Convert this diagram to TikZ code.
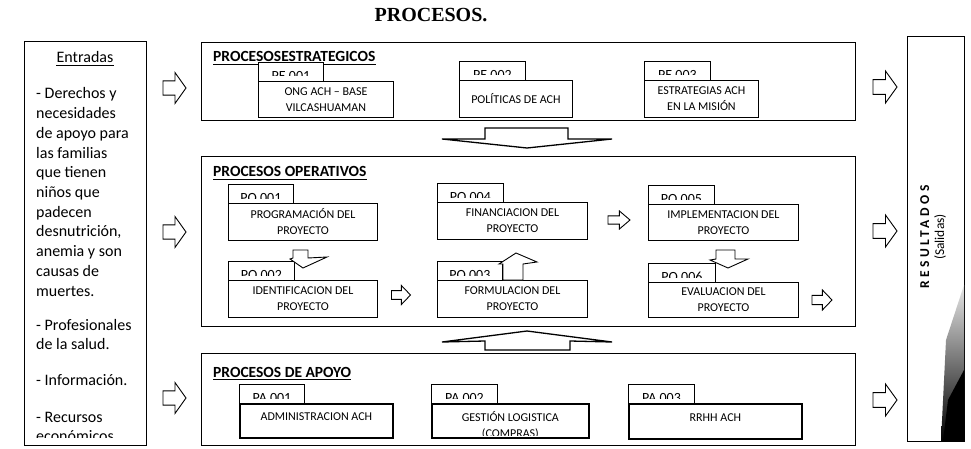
\documentclass[tikz,border=0pt]{standalone}
\usepackage{fontspec}
\setmainfont{Carlito}
\newfontfamily\headserif{Liberation Serif}
\usetikzlibrary{calc}

\tikzset{
  panel/.style={draw, line width=1.1pt, anchor=north west, inner sep=0pt},
  tabbox/.style={draw, line width=0.9pt, fill=white, anchor=north west, inner sep=0pt, minimum height=19},
  tablabel/.style={anchor=base, inner sep=0pt, font=\fontsize{14}{16}\selectfont},
  mainbox/.style={draw, line width=0.9pt, fill=white, anchor=north west, inner sep=0pt,
    align=center, font=\fontsize{12}{16}\selectfont},
  heavybox/.style={line width=1.8pt, text depth=8pt},
  ptitle/.style={anchor=base west, inner sep=0pt, font=\bfseries\fontsize{15.5}{18}\selectfont},
  uline/.style={line width=1pt},
  entry/.style={anchor=base west, inner sep=0pt, font=\fontsize{16}{19}\selectfont},
  blockline/.style={draw, fill=white, line width=0.9pt, line join=miter},
  bigflow/.style={draw, fill=white, line width=1.3pt, line join=miter},
  pics/rblock/.style={code={
    \path[blockline] (-0.5,-0.23) -- (0.02,-0.23) -- (0.02,-0.5) -- (0.5,0)
      -- (0.02,0.5) -- (0.02,0.23) -- (-0.5,0.23) -- cycle;}},
}

% one process: tab with its code (upper half shown) and the box below it
% #1 name, #2 left x, #3 tab top, #4 tab width, #5 box width, #6 box height,
% #7 code, #8 box text, #9 extra box style
\newcommand\procunit[9]{%
  \node[tabbox, minimum width=#4] (#1t) at (#2,#3) {};
  \begin{scope}
    \clip ([yshift=-1pt]#1t.north west) rectangle ([yshift=-14pt]#1t.north east);
    \node[tablabel] (#1l) at ([yshift=-18.5pt]#1t.north) {#7};
  \end{scope}
  \node[mainbox, minimum width=#5, minimum height=#6, #9] (#1) at (#2,#3+19) {#8};
}

\begin{document}
\begin{tikzpicture}[x=1pt, y=-1pt]
\useasboundingbox (0,0) rectangle (971,449);

% heading
\node[font=\headserif\bfseries\fontsize{20}{24}\selectfont, inner sep=0pt] (title) at (431,15) {PROCESOS.};

% inputs column
\node[panel, minimum width=122, minimum height=404] (entradas) at (24,41) {};
\node[entry, anchor=base] (inhead) at (85,63) {Entradas};
\draw[uline] ([yshift=-2.5pt]inhead.base west) -- ([yshift=-2.5pt]inhead.base east);
\begin{scope}
  \clip (25,42) rectangle (145,437.5);
  \foreach \yy/\tx [count=\i] in {99/{- Derechos y}, 118.7/{necesidades}, 138.4/{de apoyo para},
      158.1/{las familias}, 177.8/{que tienen}, 197.5/{niños que}, 217.2/{padecen},
      236.9/{desnutrición,}, 256.6/{anemia y son}, 276.3/{causas de}, 296/{muertes.},
      330/{- Profesionales}, 349.5/{de la salud.}, 385/{- Información.},
      422/{- Recursos}, 441.5/{económicos}}
    \node[entry] (in\i) at (36,\yy) {\tx};
\end{scope}

% process panels
\node[panel, minimum width=654, minimum height=78] (pest) at (201,42) {};
\node[panel, minimum width=654, minimum height=170] (pope) at (201,156) {};
\node[panel, minimum width=654, minimum height=92] (papo) at (201,353) {};

\node[ptitle] (tEst) at (213,62) {PROCESOSESTRATEGICOS};
\draw[uline] ([yshift=-2.5pt]tEst.base west) -- ([yshift=-2.5pt]tEst.base east);
\node[ptitle] (tOpe) at (213,177) {PROCESOS OPERATIVOS};
\draw[uline] ([yshift=-2.5pt]tOpe.base west) -- ([yshift=-2.5pt]tOpe.base east);
\node[ptitle] (tApo) at (213,377) {PROCESOS DE APOYO};
\draw[uline] ([yshift=-2.5pt]tApo.base west) -- ([yshift=-2.5pt]tApo.base east);

% strategic processes
\procunit{pe1}{258}{62}{65}{135}{36}{PE 001}{ONG ACH -- BASE\\VILCASHUAMAN}{}
\procunit{pe2}{459}{61}{66}{113}{37}{PE 002}{POLÍTICAS DE ACH}{}
\procunit{pe3}{644}{61}{66}{114}{37}{PE 003}{ESTRATEGIAS ACH\\EN LA MISIÓN}{}

% operative processes
\procunit{po1}{228}{184}{65}{149}{37}{PO 001}{PROGRAMACIÓN DEL\\PROYECTO}{}
\procunit{po4}{437}{183}{66}{150}{37}{PO 004}{FINANCIACION DEL\\PROYECTO}{}
\procunit{po5}{648}{185}{66}{150}{36}{PO 005}{IMPLEMENTACION DEL\\PROYECTO}{}
\procunit{po2}{228}{261}{66}{149}{37}{PO 002}{IDENTIFICACION DEL\\PROYECTO}{}
\procunit{po3}{437}{261}{65}{150}{37}{PO 003}{FORMULACION DEL\\PROYECTO}{}
\procunit{po6}{648}{263}{67}{150}{35}{PO 006}{EVALUACION DEL\\PROYECTO}{}

% support processes
\procunit{pa1}{239}{384}{65}{153}{34}{PA 001}{ADMINISTRACION ACH}{heavybox}
\procunit{pa2}{431}{384}{66}{157}{34}{PA 002}{}{heavybox}
\procunit{pa3}{628}{384}{66}{173}{35}{PA 003}{RRHH ACH}{heavybox}
\begin{scope}
  \clip ([shift={(1pt,-1pt)}]pa2.north west) rectangle ([shift={(-1pt,3pt)}]pa2.south east);
  \node[mainbox, draw=none, fill=none, anchor=base] (pa2a) at ($(pa2.north)+(0,18)$) {GESTIÓN LOGISTICA};
  \node[mainbox, draw=none, fill=none, anchor=base] (pa2b) at ($(pa2.north)+(0,34)$) {(COMPRAS)};
\end{scope}

% flow arrows inside the operative panel
\pic[xscale=22, yscale=18] at (619,220) {rblock};
\pic[xscale=19, yscale=19] at (401,295) {rblock};
\pic[xscale=20, yscale=20] at (822,300) {rblock};
\path[blockline] (293,250) -- (308,250) -- (308,258) -- (327,257) -- (303,268) -- (290,259) -- (293,258) -- cycle;
\path[blockline] (503,280) -- (503,264) -- (499,264) -- (516,253) -- (537,262) -- (523,264) -- (523,280) -- cycle;
\path[blockline] (716,250) -- (735,250) -- (735,259) -- (748,259) -- (728,268) -- (710,260) -- (716,259) -- cycle;

% flows between panels
\path[bigflow] (485,128) -- (568,128) -- (568,139) -- (612,139) -- (527,148) -- (442,139) -- (485,139) -- cycle;
\path[bigflow] (485,350) -- (485,341) -- (442,342) -- (527,331) -- (612,342) -- (570,341) -- (570,350) -- cycle;

% inputs into the panels
\pic[xscale=23, yscale=31] at (174.5,88) {rblock};
\pic[xscale=23, yscale=31] at (174.5,232) {rblock};
\pic[xscale=23, yscale=31] at (174.5,398) {rblock};

% outputs towards the results
\pic[xscale=24, yscale=32] at (885,87) {rblock};
\pic[xscale=24, yscale=32] at (885,231) {rblock};
\pic[xscale=24, yscale=32] at (885,400) {rblock};

% results column
\node[panel, minimum width=57, minimum height=405] (res) at (907,36) {};
\shade[top color=gray!20, bottom color=black] (964,285) -- (964,441) -- (941,441) -- (946,340) -- cycle;
\fill[black] (964,370) -- (964,441) -- (943,441) -- (948,400) -- cycle;
\node[rotate=90, align=center, inner sep=0pt, font=\fontsize{13.5}{15}\selectfont] (restext) at (933,237)
  {{\bfseries\addfontfeature{LetterSpace=26}RESULTADOS}\\(Salidas)};
\end{tikzpicture}
\end{document}
